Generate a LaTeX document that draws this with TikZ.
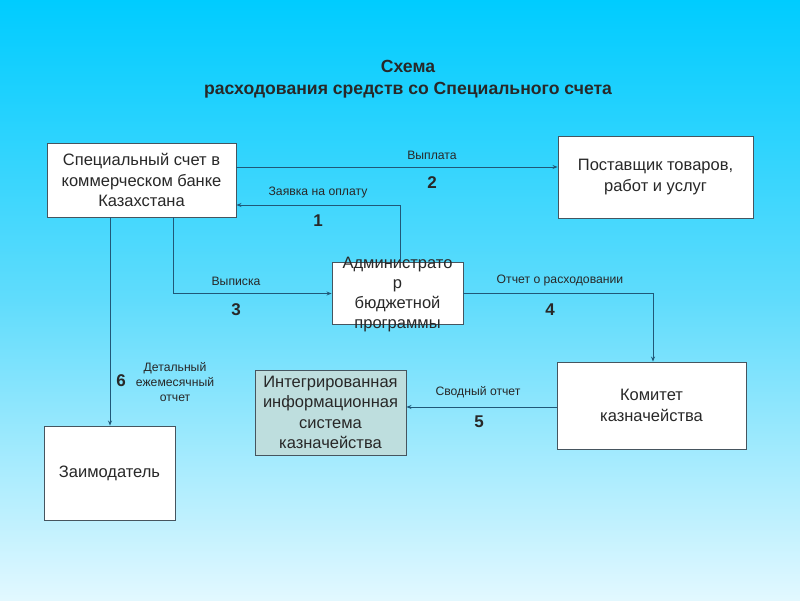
\documentclass[tikz,border=0pt]{standalone}
\usepackage{fontspec}
\setmainfont{Liberation Sans}
\usetikzlibrary{arrows.meta}
\definecolor{bgtop}{RGB}{0,204,255}
\definecolor{bgmid}{RGB}{96,220,252}
\definecolor{bgbot}{RGB}{226,248,255}
\definecolor{conncol}{RGB}{32,88,120}
\definecolor{boxline}{RGB}{70,85,95}
\definecolor{tealfill}{RGB}{190,222,222}
\definecolor{txt}{RGB}{40,40,40}
\tikzset{
  box/.style={draw=boxline, line width=0.9pt, fill=white, inner sep=0pt, align=center,
    font=\fontsize{16.5}{20.3}\selectfont, text=txt},
  conn/.style={draw=conncol, line width=0.9pt, -{Stealth[length=5pt,width=4pt]}},
  lbl/.style={font=\fontsize{12.2}{14.7}\selectfont, text=txt, align=center, inner sep=0pt},
  num/.style={font=\fontsize{17}{18}\selectfont\bfseries, text=txt, inner sep=0pt},
}
\begin{document}
\begin{tikzpicture}[x=1pt,y=-1pt]
\useasboundingbox (0,0) rectangle (800,600);
\shade[top color=bgtop, bottom color=bgbot, middle color=bgmid] (0,0) rectangle (800,600);

\node[font=\fontsize{17.6}{22}\selectfont\bfseries, text=txt, align=center, inner sep=0pt] (title) at (408,79)
  {Схема\\расходования средств со Специального счета};

\node[box, minimum width=189pt, minimum height=74pt] (bank) at (141.5,180)
  {Специальный счет в\\коммерческом банке\\Казахстана};
\node[box, minimum width=195pt, minimum height=82pt] (supp) at (655.5,177)
  {Поставщик товаров,\\работ и услуг};
\node[box, minimum width=131pt, minimum height=62pt] (admin) at (397.5,293.5) {};
\node[align=center, font=\fontsize{16.5}{20}\selectfont, text=txt, inner sep=0pt] (admintext) at (397.5,295)
  {Администрато\\р\\бюджетной\\программы};
\node[box, fill=tealfill, minimum width=151pt, minimum height=85pt] (ais) at (330.5,412.5)
  {Интегрированная\\информационная\\система\\казначейства};
\node[box, minimum width=189pt, minimum height=87pt] (kom) at (651.5,405.5)
  {Комитет\\казначейства};
\node[box, minimum width=131pt, minimum height=94pt] (zaim) at (109.5,473)
  {Заимодатель};

% connectors
\draw[conn] ([yshift=13pt]bank.east) -- ([yshift=13pt]bank.east -| supp.west);
\draw[conn] ([xshift=2.5pt]admin.north) |- ([yshift=-25pt]bank.east);
\draw[conn] ([xshift=31.5pt]bank.south) |- (admin.west);
\draw[conn] (admin.east) -| ([xshift=1.5pt]kom.north);
\draw[conn] ([yshift=-1.5pt]kom.west) -- ([yshift=-1.5pt]kom.west -| ais.east);
\draw[conn] ([xshift=-31.5pt]bank.south) -- ([xshift=-31.5pt]bank.south |- zaim.north);

% labels
\node[lbl] (l2) at (432,155) {Выплата};
\node[num] (n2) at (432,183) {2};
\node[lbl] (l1) at (318,193) {Заявка на оплату};
\node[num] (n1) at (318,221) {1};
\node[lbl] (l3) at (236,281) {Выписка};
\node[num] (n3) at (236,310) {3};
\node[lbl] (l4) at (560,281) {Отчет о расходовании};
\node[num] (n4) at (550,310) {4};
\node[lbl] (l5) at (478,392) {Сводный отчет};
\node[num] (n5) at (479,422) {5};
\node[num] (n6) at (121,381) {6};
\node[lbl] (l6) at (175,382) {Детальный\\ежемесячный\\отчет};
\end{tikzpicture}
\end{document}
